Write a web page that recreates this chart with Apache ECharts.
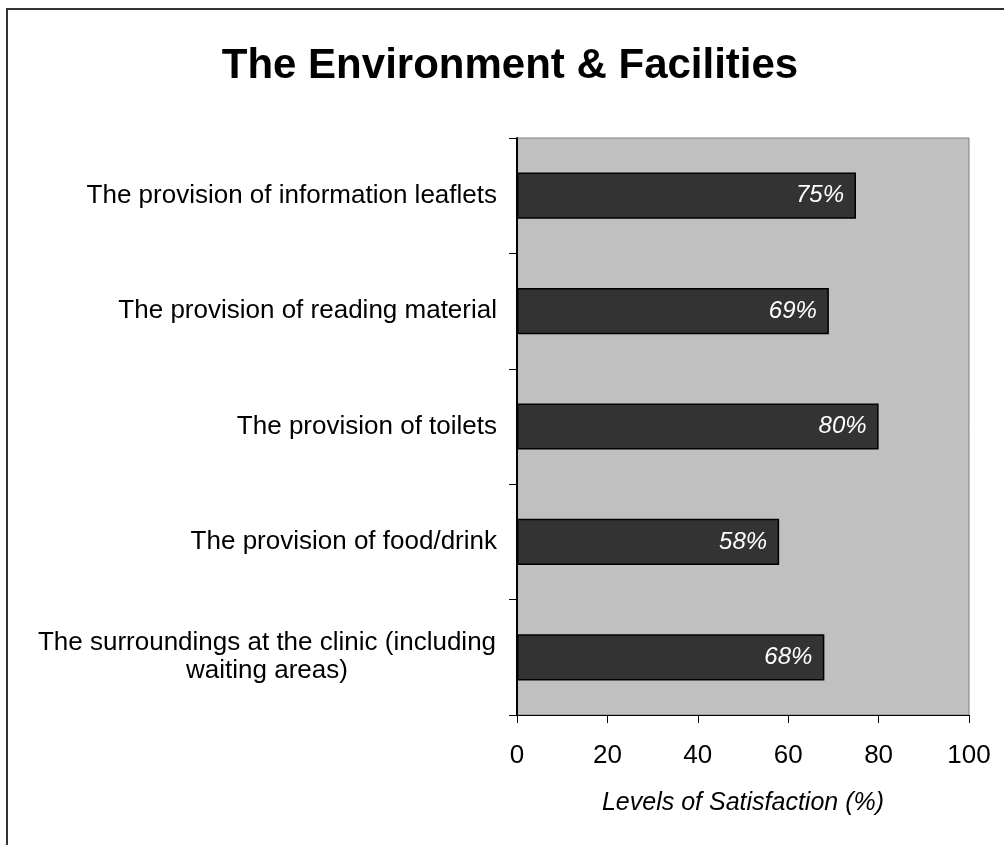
<!DOCTYPE html>
<html><head><meta charset="utf-8">
<script src="https://cdn.jsdelivr.net/npm/echarts@6/dist/echarts.min.js"></script>
<style>html,body{margin:0;padding:0;background:#fff}#c{width:1004px;height:845px}</style>
</head><body><div id="c"></div>
<script>
const categories = [
  "The surroundings at the clinic (including\nwaiting areas)",
  "The provision of food/drink",
  "The provision of toilets",
  "The provision of reading material",
  "The provision of information leaflets"
];
const values = [68, 58, 80, 69, 75];
const xTicks = [0, 20, 40, 60, 80, 100];
const titleText = "The Environment & Facilities";
const xAxisName = "Levels of Satisfaction (%)";

const chart = echarts.init(document.getElementById('c'));
const FONT = '"Liberation Sans", Arial, sans-serif';
chart.setOption({
  animation: false,
  backgroundColor: '#fff',
  textStyle: { fontFamily: FONT },
  title: {
    text: titleText, left: 505, top: 40, textAlign: 'center',
    textStyle: { fontFamily: FONT, fontWeight: 'bold', fontSize: 42, color: '#000' }
  },
  graphic: [{
    type: 'rect', shape: { x: 7, y: 9, width: 1200, height: 1000 },
    style: { fill: 'none', stroke: '#333', lineWidth: 2 }, silent: true
  }],
  grid: {
    left: 517, top: 138, right: 35, bottom: 130, containLabel: false,
    show: true, backgroundColor: '#C0C0C0', borderColor: '#808080', borderWidth: 1
  },
  xAxis: {
    type: 'value', min: xTicks[0], max: xTicks[xTicks.length - 1], interval: 20,
    name: xAxisName, nameLocation: 'middle', nameGap: 76,
    nameTextStyle: { fontFamily: FONT, fontStyle: 'italic', fontSize: 25, color: '#000' },
    axisLine: { show: true, lineStyle: { color: '#000', width: 1 } },
    axisTick: { show: true, length: 8, lineStyle: { color: '#000' } },
    axisLabel: { fontFamily: FONT, fontSize: 26, color: '#000', margin: 28 },
    splitLine: { show: false }
  },
  yAxis: {
    type: 'category', data: categories,
    axisLine: { show: true, lineStyle: { color: '#000', width: 2 } },
    axisTick: { show: true, length: 8, alignWithLabel: false, lineStyle: { color: '#000' } },
    axisLabel: {
      fontFamily: FONT, fontSize: 26, color: '#000', margin: 20, lineHeight: 28,
      formatter: function (v) {
        if (v.indexOf('\n') >= 0) {
          return v.split('\n').map(l => '{w|' + l + '}').join('\n');
        }
        return v;
      },
      rich: { w: { fontFamily: FONT, fontSize: 26, color: '#000', width: 460, align: 'center', lineHeight: 28 } }
    },
    splitLine: { show: false }
  },
  series: [{
    type: 'bar', data: values, barCategoryGap: '60%',
    itemStyle: { color: '#333333', borderColor: '#000', borderWidth: 1.5 },
    label: {
      show: true, position: 'insideRight', distance: 12,
      formatter: '{c}%', fontFamily: FONT, fontStyle: 'italic', fontSize: 24, color: '#fff'
    }
  }]
});
</script></body></html>
